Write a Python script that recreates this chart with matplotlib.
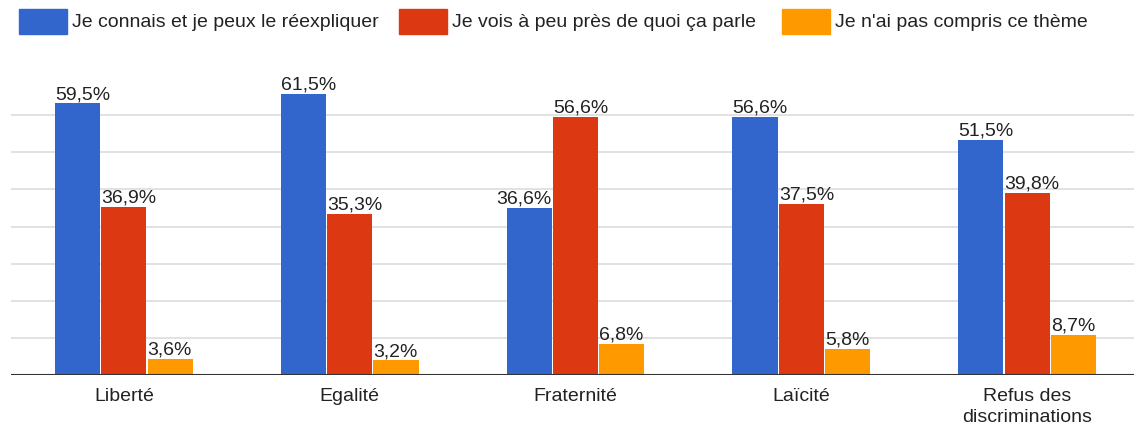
import numpy as np
import matplotlib.pyplot as plt
from matplotlib.patches import Rectangle

plt.rcParams['font.family'] = ['Liberation Sans', 'DejaVu Sans']

themes = ["Liberté", "Egalité", "Fraternité", "Laïcité", "Refus des\ndiscriminations"]
series_names = ["Je connais et je peux le réexpliquer",
                "Je vois à peu près de quoi ça parle",
                "Je n'ai pas compris ce thème"]
connais = [59.5, 61.5, 36.6, 56.6, 51.5]
vois = [36.9, 35.3, 56.6, 37.5, 39.8]
pas_compris = [3.6, 3.2, 6.8, 5.8, 8.7]

colors = ["#3366CC", "#DC3912", "#FF9900"]
GRID_STEP = 8.13   # gridlines of the original (count based axis)
FS = 14

W, H = 1134, 435
fig = plt.figure(figsize=(W / 100, H / 100), dpi=100)

# axes: x from -0.5..4.5 maps to px 11..1140, baseline at px 376, top at px 60
x0, x1 = 11, 1140
ytop, ybase = 60, 376
ax = fig.add_axes([x0 / W, (H - ybase) / H, (x1 - x0) / W, (ybase - ytop) / H])
ax.set_xlim(-0.5, 4.5)
ax.set_ylim(0, (ybase - ytop) / 4.565)

x = np.arange(len(themes))
bw = 0.2
step = 0.205
all_series = [connais, vois, pas_compris]
for i, vals in enumerate(all_series):
    pos = x + (i - 1) * step
    ax.bar(pos, vals, width=bw, color=colors[i], zorder=3)
    for j, (p, v) in enumerate(zip(pos, vals)):
        lab = ("%.1f%%" % v).replace(".", ",")
        # if the next bar is taller, put the label on the left side
        if i < 2 and all_series[i + 1][j] > v:
            ax.text(p + bw / 2, v + 0.3, lab, ha="right", va="bottom",
                    fontsize=FS, color="#222222", zorder=4)
        else:
            ax.text(p - bw / 2, v + 0.3, lab, ha="left", va="bottom",
                    fontsize=FS, color="#222222", zorder=4)

for k in range(1, 8):
    ax.axhline(k * GRID_STEP, xmin=0, xmax=1, color="#dddddd", lw=1.2, zorder=1)
ax.axhline(0, color="#333333", lw=1.5, zorder=5)

for s in ax.spines.values():
    s.set_visible(False)
ax.set_yticks([])
ax.set_xticks(x)
ax.set_xticklabels(themes, fontsize=FS, color="#222222", linespacing=1.3)
ax.tick_params(axis="x", length=0, pad=9)

# legend drawn by hand at the top
sw_x = [19, 399, 782]
for i, name in enumerate(series_names):
    fig.patches.append(Rectangle((sw_x[i] / W, (H - 35) / H), 48 / W, 25 / H,
                                 transform=fig.transFigure, color=colors[i]))
    fig.text((sw_x[i] + 53) / W, (H - 22.5) / H, name, fontsize=FS,
             color="#222222", ha="left", va="center")

fig.savefig("out.png", dpi=100)
